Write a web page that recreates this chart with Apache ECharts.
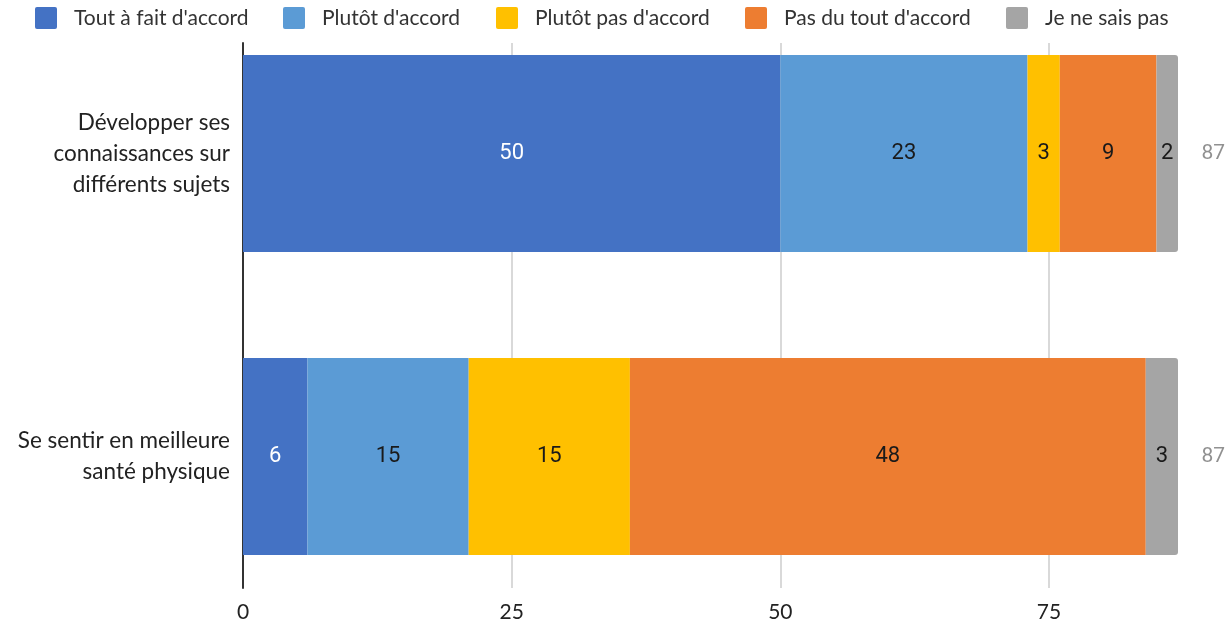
<!DOCTYPE html>
<html>
<head>
<meta charset="utf-8">
<script src="https://cdn.jsdelivr.net/npm/echarts@6/dist/echarts.min.js"></script>
<style>html,body{margin:0;padding:0;background:#fff}#c{width:1225px;height:624px}</style>
</head>
<body>
<div id="c"></div>
<script>
var categories = ["Développer ses\nconnaissances sur\ndifférents sujets", "Se sentir en meilleure\nsanté physique"];
var seriesNames = ["Tout à fait d'accord", "Plutôt d'accord", "Plutôt pas d'accord", "Pas du tout d'accord", "Je ne sais pas"];
var toutAFait = [50, 6];
var plutotAccord = [23, 15];
var plutotPas = [3, 15];
var pasDuTout = [9, 48];
var neSaisPas = [2, 3];
var xTicks = [0, 25, 50, 75];
var colors = ["#4472C4", "#5B9BD5", "#FFC000", "#ED7D31", "#A5A5A5"];
var labelColors = ["#ffffff", "#1a1a1a", "#1a1a1a", "#1a1a1a", "#1a1a1a"];

var values = [toutAFait, plutotAccord, plutotPas, pasDuTout, neSaisPas];
var totals = categories.map(function (c, i) {
  return values.reduce(function (s, arr) { return s + arr[i]; }, 0);
});

var chart = echarts.init(document.getElementById('c'));
var legendLefts = [35, 283, 496, 745, 1006];
var sq = 'path://M2,0 H20 A2,2 0 0 1 22,2 V20 A2,2 0 0 1 20,22 H2 A2,2 0 0 1 0,20 V2 A2,2 0 0 1 2,0 Z';
var legends = seriesNames.map(function (n, i) {
  return {
    data: [n], left: legendLefts[i], top: 7, itemWidth: 22, itemHeight: 22,
    icon: sq, padding: 0,
    textStyle: { fontFamily: 'Lato', fontSize: 21, color: '#333', padding: [0, 0, 0, 12] }
  };
});

var series = seriesNames.map(function (n, i) {
  return {
    name: n, type: 'bar', stack: 'total', xAxisIndex: 0, yAxisIndex: 0,
    barWidth: 197, data: values[i],
    itemStyle: { color: colors[i], borderRadius: i === 4 ? [0, 3, 3, 0] : 0 },
    label: { show: true, position: 'inside', fontFamily: 'Roboto', fontSize: 22, color: labelColors[i] },
    emphasis: { disabled: true }
  };
});
series.push({
  type: 'scatter', xAxisIndex: 0, yAxisIndex: 0, symbolSize: 1,
  itemStyle: { color: 'rgba(0,0,0,0)' },
  data: totals.map(function (t, i) { return [t, i]; }),
  label: { show: true, position: 'right', distance: 23, fontFamily: 'Roboto', fontSize: 21, color: '#757575',
    formatter: function (p) { return p.value[0]; } },
  silent: true
});

chart.setOption({
  animation: false,
  legend: legends,
  grid: [
    { left: 243, right: 47, top: 2, height: 606, outerBoundsMode: 'none', containLabel: false },
    { left: 243, width: 1074.7, top: 43, height: 545, outerBoundsMode: 'none', containLabel: false }
  ],
  xAxis: [
    { gridIndex: 0, type: 'value', min: 0, max: 87, show: false },
    { gridIndex: 1, type: 'value', min: xTicks[0], max: 100, interval: xTicks[1] - xTicks[0],
      axisLine: { show: false }, axisTick: { show: false },
      splitLine: { show: true, lineStyle: { color: '#cccccc', width: 1.5 } },
      axisLabel: { margin: 14, fontFamily: 'Lato', fontSize: 21, color: '#222',
        formatter: function (v) { return xTicks.indexOf(v) >= 0 ? String(v) : ''; } } }
  ],
  yAxis: [
    { gridIndex: 0, type: 'category', inverse: true, data: categories,
      axisLine: { show: false }, axisTick: { show: false },
      axisLabel: { margin: 13, fontFamily: 'Lato', fontSize: 22.5, lineHeight: 31, color: '#222', align: 'right' } },
    { gridIndex: 1, type: 'value', min: 0, max: 1, axisLabel: { show: false }, axisTick: { show: false },
      splitLine: { show: false }, axisLine: { show: true, lineStyle: { color: '#333', width: 2 } } }
  ],
  series: series
});
</script>
</body>
</html>
